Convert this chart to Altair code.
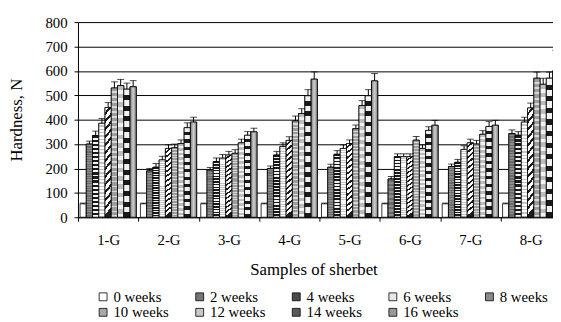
import altair as alt
import pandas as pd

groups = ["1-G", "2-G", "3-G", "4-G", "5-G", "6-G", "7-G", "8-G"]
weeks = ["0 weeks", "2 weeks", "4 weeks", "6 weeks", "8 weeks",
         "10 weeks", "12 weeks", "14 weeks", "16 weeks"]

w0 = [55, 55, 55, 55, 55, 55, 55, 55]
w2 = [300, 190, 194, 200, 205, 157, 208, 343]
w4 = [335, 205, 228, 255, 258, 248, 225, 336]
w6 = [385, 235, 242, 290, 282, 248, 278, 390]
w8 = [450, 282, 255, 315, 302, 248, 305, 448]
w10 = [530, 285, 262, 395, 363, 316, 300, 570]
w12 = [540, 302, 305, 425, 458, 282, 340, 545]
w14 = [525, 367, 336, 498, 498, 356, 372, 570]
w16 = [535, 390, 350, 566, 559, 377, 377, 600]

e0 = [3, 3, 3, 3, 3, 3, 3, 3]
e2 = [12, 10, 10, 10, 12, 10, 10, 15]
e4 = [18, 15, 15, 15, 15, 12, 12, 15]
e6 = [20, 15, 15, 15, 15, 12, 15, 20]
e8 = [20, 15, 15, 15, 15, 12, 15, 20]
e10 = [25, 15, 15, 20, 15, 15, 15, 25]
e12 = [25, 15, 15, 20, 20, 15, 15, 25]
e14 = [25, 20, 15, 25, 25, 15, 20, 25]
e16 = [25, 20, 15, 30, 30, 20, 20, 85]

y_ticks = [0, 100, 200, 300, 400, 500, 600, 700, 800]

series = [w0, w2, w4, w6, w8, w10, w12, w14, w16]
errors = [e0, e2, e4, e6, e8, e10, e12, e14, e16]

fills = ["#ffffff", "#767676", "#4a4a4a", "#e6e6e6", "#8a8a8a",
         "#a8a8a8", "#c8c8c8", "#5a5a5a", "#999999"]

rows = []
for wk, vals, errs in zip(weeks, series, errors):
    for g, v, e in zip(groups, vals, errs):
        rows.append({"group": g, "week": wk, "value": v, "hi": v + e})
df = pd.DataFrame(rows)

FONT = "Liberation Serif"


def stripes(n, c1, c2, duty=0.5, x2=0.0, y2=1.0):
    stops = []
    for i in range(n):
        a = i / n
        b = (i + duty) / n
        c = (i + 1) / n
        stops += [alt.GradientStop(offset=a, color=c1),
                  alt.GradientStop(offset=b, color=c1),
                  alt.GradientStop(offset=b, color=c2),
                  alt.GradientStop(offset=c, color=c2)]
    return alt.LinearGradient(gradient="linear", stops=stops,
                              x1=0, y1=0, x2=x2, y2=y2)


textures = {
    "2 weeks": stripes(30, "#6a6a6a", "#8c8c8c"),
    "4 weeks": stripes(20, "#1a1a1a", "#f4f4f4", duty=0.55),
    "6 weeks": stripes(28, "#ffffff", "#c4c4c4", duty=0.6),
    "8 weeks": stripes(14, "#ffffff", "#1e1e1e", duty=0.6, x2=0.07, y2=1.0),
    "10 weeks": stripes(26, "#9c9c9c", "#d8d8d8", duty=0.65),
    "12 weeks": stripes(16, "#bcbcbc", "#f2f2f2", duty=0.55),
    "14 weeks": stripes(12, "#f2f2f2", "#1a1a1a", duty=0.55),
    "16 weeks": alt.LinearGradient(
        gradient="linear", x1=0, y1=0, x2=1, y2=0,
        stops=[alt.GradientStop(offset=0, color="#7a7a7a"),
               alt.GradientStop(offset=0.5, color="#cfcfcf"),
               alt.GradientStop(offset=1, color="#7a7a7a")]),
}

x_scale = alt.Scale(range=[0, 490], paddingInner=0, paddingOuter=0)
x_axis = alt.Axis(title="Samples of sherbet", tickBand="extent",
                  labelAngle=0, labelFontSize=15, labelPadding=12,
                  labelFont=FONT, titleFont=FONT,
                  tickSize=4, titleFontSize=17, titleFontWeight="normal",
                  titleX=239, titleY=53, titleBaseline="middle",
                  titleAlign="center")
y_scale = alt.Scale(domain=[0, 800], nice=False, zero=True)
y_axis = alt.Axis(title="Hardness, N", values=y_ticks, tickCount=20,
                  labelOverlap=False, labelFont=FONT, titleFont=FONT,
                  grid=True, gridColor="black", gridWidth=1, gridOpacity=1,
                  labelFontSize=15, labelPadding=7, tickSize=4,
                  titleFontSize=17, titleFontWeight="normal",
                  titleX=-62, titleY=99, titleAngle=270,
                  titleAlign="center", titleBaseline="middle")

x_enc = alt.X("group:N", sort=groups, scale=x_scale, axis=x_axis)
xo_enc = alt.XOffset("week:N", sort=weeks,
                     scale=alt.Scale(domain=weeks, paddingInner=0,
                                     paddingOuter=0.33))
y_val = alt.Y("value:Q", scale=y_scale, axis=y_axis)

bars = alt.Chart(df).mark_bar(stroke="black", strokeWidth=0.8).encode(
    x=x_enc, xOffset=xo_enc, y=y_val,
    color=alt.Color("week:N", sort=weeks,
                    scale=alt.Scale(domain=weeks, range=fills),
                    legend=alt.Legend(title=None, orient="none", legendX=18,
                                      legendY=271, columns=5, symbolType="square",
                                      symbolSize=64, symbolStrokeColor="black",
                                      symbolStrokeWidth=0.8, labelFontSize=15,
                                      labelFont=FONT,
                                      columnPadding=23, rowPadding=0,
                                      labelOffset=3, direction="horizontal"))
)

tex_layers = []
for wk, grad in textures.items():
    tex_layers.append(
        alt.Chart(df).transform_filter(alt.datum.week == wk)
        .mark_bar(fill=grad, stroke="black", strokeWidth=0.8)
        .encode(x=x_enc, xOffset=xo_enc, y=y_val)
    )

err_rule = alt.Chart(df).mark_rule(color="black", strokeWidth=1).encode(
    x=x_enc, xOffset=xo_enc, y=y_val, y2="hi:Q"
)
caps = alt.Chart(df).mark_tick(color="black", size=7, thickness=1,
                               orient="horizontal").encode(
    x=x_enc, xOffset=xo_enc,
    y=alt.Y("hi:Q", scale=y_scale, axis=y_axis)
)

chart = alt.layer(bars, *tex_layers, err_rule, caps).properties(
    width=482, height=198,
    autosize=alt.AutoSizeParams(type="none"),
    padding={"left": 71, "top": 12, "right": 0, "bottom": 104}
).configure(font=FONT).configure_view(stroke=None).configure_axis(
    domainColor="black", tickColor="black", labelColor="black",
    titleColor="black", labelFont=FONT, titleFont=FONT
).configure_legend(labelFont=FONT, labelColor="black")

chart.save("out.html", embed_options={"renderer": "svg", "actions": False})
